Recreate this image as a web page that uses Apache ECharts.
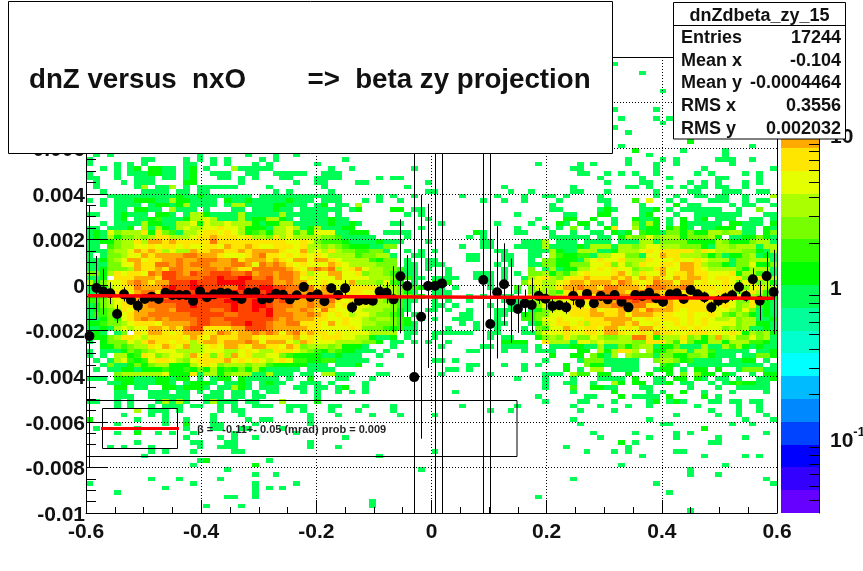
<!DOCTYPE html>
<html><head><meta charset="utf-8">
<style>html,body{margin:0;padding:0;background:#fff}#c{width:863px;height:571px}</style>
<script src="https://cdn.jsdelivr.net/npm/echarts@6/dist/echarts.min.js"></script>
</head><body><div id="c"></div>
<script>
const nBinsX = 100, nBinsY = 100, xMin = -0.6, xMax = 0.6, yMin = -0.01, yMax = 0.01;
const paletteColors = ['#6600ff','#3300ff','#0000ff','#0044ff','#0088ff','#00bbff','#00ffff','#00ffcc','#00ff99','#00ff55','#00ff00','#33ff00','#77ff00','#aaff00','#e5ff00','#ffe600','#ffaa00','#ff7700','#ff4400','#ff0000'];
const zLogMin = -1.481, zLogMax = 1.525;
const zMajorTicks = [-1, 0, 1];
const zMinorTicks = [0.04,0.05,0.06,0.07,0.08,0.09,0.2,0.3,0.4,0.5,0.6,0.7,0.8,0.9,2,3,4,5,6,7,8,9,20,30];

// Sparse histogram rows: row (from the top) -> columns holding the lowest filled level
const sparseRows = {
 1:[76],3:[80],7:[83],11:[76,82],13:[77,82,84],14:[83],15:[76],16:[78],18:[87],19:[77,96],20:[79,86,92],
 21:[1,3,16,23,27,30,81,92],
 22:[0,8,9,14,16,18,20,25,27,37,78,83,85,91,92,93,96],
 23:[0,4,6,8,14,15,18,20,24,26,33,65,71,73,78,82,85,93],
 24:[2,4,6,7,9,10,11,12,14,15,17,21,22,23,24,25,26,35,38,47,70,71,82,89,99],
 25:[0,4,6,7,8,9,10,11,12,14,15,18,19,20,23,24,27,28,29,30,31,34,35,36,71,72,75,77,79,82,88,90,95,97],
 26:[0,1,4,7,8,9,11,12,14,15,19,20,22,24,28,29,33,34,35,36,42,44,45,74,80,84,91,92,97],
 27:[1,5,7,8,9,14,15,22,30,33,34,39,40,49,75,80,81,87,89,91,95,97],
 28:[1,7,8,10,11,12,14,16,17,18,19,20,21,26,34,46,60,70,78,79,81,84,86,88,89,91,92,95],
 73:[4,5,9,10,11,13,14,16,18,19,21,22,24,26,27,31,33,36,38,40,53,70,76,81,83,86,89,93,98],
 74:[4,5,6,9,10,11,12,13,14,17,18,19,21,22,24,25,33,65,72,73,77,79,80,81,82,84,89,91],
 75:[0,1,4,6,10,11,12,13,14,17,18,19,20,21,23,24,28,33,66,71,72,76,81,82,84,85,86,90,91,93,94,96,97],
 76:[4,6,9,11,12,13,15,16,19,21,24,25,26,29,30,31,35,36,40,44,54,62,70,74,78,81,88,94,97],
 77:[7,9,10,11,13,19,21,22,29,31,35,39,44,58,61,71,76,90,94,97],
 78:[5,9,11,18,22,32,36,41,45,50,85,91,94,98],
 79:[0,7,11,14,18,23,25,26,32,70,81,95,99],
 80:[4,11,14,18,19,24,32,71,83,84,93,96],
 81:[1,7,14,18,19,22,23,28,89],
 82:[4,7,10,12,15,21,30,73,79,85,87,98],
 83:[14,19,21,24,37,74,81,85,91,95],
 84:[7,15,16,20,21,32,77,79,90,91],
 85:[3,5,9,16,19,20,21,32,36,69,78],
 86:[9,11,15,21,22,50,72,76,78,85,86],
 87:[8,42,80,89,95,97],
 88:[16,17,26],
 89:[15,24,77,92],
 90:[20,48,87],
 91:[24,27,87,91],
 92:[9,13,19,70,98],
 93:[0,15,24,30,82,99],
 94:[11,24,26,28],
 95:[4,24,84],
 96:[20,21,24,65],
 97:[41],
 98:[17,22,41],
 99:[87]
};
// Cells in the sparse rows that sit one or more levels higher: [row, column, level letter]
const sparseRaised = [[18,87,'b'],[20,79,'b'],[24,7,'b'],[24,9,'b'],[24,10,'b'],[24,15,'b'],[24,21,'e'],[25,9,'b'],[25,10,'b'],[25,15,'b'],[26,15,'b'],[27,14,'b'],[27,15,'b'],[28,8,'e'],[28,12,'e'],[73,76,'b'],[73,86,'b'],[74,77,'b'],[74,84,'b'],[74,89,'b'],[75,11,'e'],[75,13,'e'],[75,18,'e'],[75,28,'e'],[75,33,'b'],[75,82,'b'],[75,85,'b'],[77,7,'e'],[79,0,'b'],[80,14,'b'],[81,89,'b'],[82,7,'b'],[84,77,'b'],[88,17,'b'],[89,24,'b']];

// Dense histogram rows 29..72 as [columns 0-49, columns 50-99], one letter per bin, '.' = empty
const denseRows = [
["..a.....aaaa.aa.aa.........a.a.....a.............a","a..........a..a.....aa...a......a....aa...aaa..aa.b"],
["...aaaaaaaaaabaabaaaaaaa.aaaaaaaaaaaa.....a.a..a..","....a....a...a..aa.a....a.......a..a..aa.aa..a...e"],
["a.a.aaabbbaaebbaaaa.baabaaaaabaaa.aaa...a.a..a....",".......a..a..a....a.....aa...c.f..a.a...aaa..a.aa."],
["..a.aaaa.abbabeaaaa.aeeaaaabbaaa.ab.aa.e..........",".................a.......a....a....b.aa....a.aa..a."],
["....aa.bbaa.eaaa.a...aa.aaabaa.aaaaaa.ab....bb.aa.",".................aa.....aba...aab.a.aaaaaa..a..d..a"],
["aa..abaaa.bba.aeebaaaaeaaaaaeaaaaaa.a.........a.a.","............a......aa...bb....ab...a..aaaaaaa...aa"],
["....ab.aabcaaabeefeaaaeabbeeba.aaaabaa...........a","...............a...bb..b..a..baab.a.b.ab.aaa..aa.aa"],
["..a.aaaaebbaaeefbfeefeeebabbeeaaaaabaaba....aa....",".a.......a....a...ba.bb.a.a..daeb.a.baaaaa.bbaaa.b"],
["aa.aaab.eaebaefeeffgffebbbaeefeabeaaabb.........a.","............a...a.a.d.a..bg..eabb.bdba.aabbb.aa.ba"],
["abafdeeegbgdcaeefggfgfebcdbeefcebfffaabbb..aaaa...","......ba....aa...a..a..aa.bab.cbbaddbdbbeedeeaa.bd"],
["abaebddedeggeeefgghgggfgeedgefeeeeddcaaaaa....a...",".....a.a.........aaaaaa.aa.beddfdeeebdddeb.aabbdba"],
["aabbdeegehhghgggggiggggggggggffgfdcccbaaaabaaa...a",".......aa....aaae.aaa.aaaa.aaaeeaddddbbbbedbbbdeea"],
["aa.cdeeffgfggfgffggfhgghgffgggfgeededcbbbaadd.....","....a..aa...aaaaeaaaabaeeeaeedeffeeedddbaeedeeeaee"],
["aaadeefhghgefeehgghhgghghhhhgffhefegeddccdda..a.a.","a........aa...aaaebaaeeeaabeeefgfgggggegfeeeeddbae"],
["a.addeffhghhhhiihhhgfffghiggfgfgfgfeeeecddeea..aa.",".....aa...aa..aa.ecbbccaeeffddaffhggeeedbdabbdeaba"],
["aabdefhhfgghhihhiiihhighhhghgfhhfhhgfeeeecbdd.a..a","a....aa...aa..a.ddbbbaefgffgeeegfffgffgfeeeaddeeea"],
["aaaddffhggiihihiiihhhiihfihihgfgfffhgfeeeeddd.aa.a","aa.......a.a..aaddbbdddffgdfdegffggfhhgeddbaddfbbd"],
["aabdddehgghgiihhhiihihggiiiiihgfhihiefghfeeddcaa.a","..a.......a...d.aeabbeefgfgffdeeghffhhgfeeeedbeeea"],
["ddbegfggfihjjihjiijjjiijhiihiihgeffhhffgdeedcbaa..","..a...aaa.a.a.ddebdcefgfffghfegffhfgghggfffgbeecda"],
["aab.ggghhhgjjiiiijjkjjkkiijhiihfgfffhffffeeeddcaa.","aaaa..aaa.a..aefgedfgghggghghfhghgfhghhgfggfgdggde"],
["ebdffghihghhjjjkjjjkkkkjjjjhhihhffgfffheeedfcb.a..","bbb.....a....dffeefghhghhhgihgfgihhfhhfgffgfdfgdeb"],
["adbefggihhhjkjjkkjjjiikjjkkjjiigighhfgggggfeeddcba","aa.a....a...c.dfeeghhihhgiihhhgiiihhiigggfgfgdfgee"],
["aabeggfhiigijjjjjjjjkkjkjjkjiihhihhhgfggffeeedba..","aaa......a..a.ddedcghgghiiihgiijhgghggggfgggdfgecb"],
["bbcfghfhhhiijkjjkjjjjkkjjjkkjjiiihiihggfgfeeeddcb.","aaa..a.a..aa..fefdegfggghggiiihhihgghggggfgefgedcb"],
["ccdefgfhiiijjjjkjjjjkkjjkkjijihhihhigfgggeeddcaa..","a.a..a....a.a.dedeffgggihhhiijiihhhghggggfgfddgfba"],
["abdefgghhiiiijjkjjjjjkjjkkjiiihhihhhfggffeeedca...","aa.a....a..aa.edfefgghfghhiiiiiggghgggggffgfdegcba"],
["abcdegfhhhiihjjjjjiijkjjkjkiihhihgigffgfeeeddba..a","a.a..a...aaa..abdeffggghfgghhhgihhhgfgggfffedfdaba"],
["accddfghhiiiiiijjjjjiijjjjkiiihhihgfgfeffeddcb.a..","....aa...aa..bcddfffggghhgghfhhhgggffgffgfdcedbaba"],
["aabdcfghihihiiiijjiijjjjjjjihihhhggffgffedeedcb.a.","a..aaa...a...ccdffgfffggghhhhffgfgggfgfgfeefdeeaab"],
["bbcddefgggfhhhhijjiiijjkjjihhiigggfhfgffeedddcba..","....a.a..aa...abefggfgeggghhghffgffgfgfgffffdeebba"],
["aabaefeffhhghgijjgggghhjjjihhhhhggffffgfdddcbcaa..","..a...a..a...a.dcffhgfggfhhfgfhhfgffgfgfffdedeaaba"],
["aba.ad.gfhhgfghhhggihghhihihfhighggfgffffeeee.aa..","aaaaaa..aa...aadfffgffggfhhgffgfhggffgggfffgfbedeb"],
["abbdeggfegggggfhgfhggghhgfgggghfgfgggffeebaab.a...","a.......a.aa...bdedgeddfeddeeiigbeeegdebehefddfdea"],
["a.bdddfeghggfggeghhghhhihfhhhfehgfffeeeeddb.aa.a.a","..a.......bbbb..geeeaffefeeeeddgggecfdbbeebeeeccba"],
["..bbdcdeegfhgfheefgfhhgfhhggfhgdeeedebbba...a.....",".a.....aa.aaaa.a.aaabbaaeaadbdeeabbdaaaeaaecebabaa"],
["a.aaabdcdefffeeeefffeefgfeegggfedcbdcbbaaa.a......",".....aa...a..a.aaa...bb.ebegge.ebbdeeaeecaaaaa.aab"],
["a.a.eebcgfdeffehfgdgehfgeeffdcbbbbaabaaa..a..a....",".................b..bb.dbae.edddaddbbddebaaa.aaddb"],
[".a.aefcbcfggfedfgggghfgfgfefgfccbbccaaaaa.........","aa.a............a....adddaaaaa..deedbcaaaa.aabb.a."],
["..adaabdbdeebbbefgfdeeedeecbbbbbaaa.aaab..a.......",".....aa...a..a.a...b..dbbaaaaa...cba.aaaaaaaaaaa.a"],
[".a.aabbabbbcbbcbdbebcbdbebaaaaa.aaaa..............","..aa.a.......a.....b.a.ee.aaaa..abb.a.bb.b..adddaa"],
["....deeeeeefbbbgaeebdeeeaaeaaa.aa.eeaaa...aa......",".a......a.......aaa.ecc.bb..b..b..b.d.dbb.ba..a.bb"],
["aaa.bbbaaabbabb.a.abb.baaaaa.a..b...aa...a........","............a...a...a...aaaa.b..aa.bb.ba.aa.a..aab"],
["...aabbaaabba.abbba.aaba.abaa..aaa.a....a.........","................a..aa..a..eb.bb.aab.aa..a.abcbbaa."],
["....bb.aa..bbabbba.aaeba.aaa..aa.aa.ab..a.........","................a...c..bbaa...aa.....a...a..aaaaa."]
];
const denseFirstRow = 29;

// Profile: mean y (in 1e-3) and its error for each x bin; null = no point
const profileMean = [-2.24,-0.13,-0.29,-0.36,-1.27,-0.41,-0.66,-0.91,-0.61,-0.51,-0.61,-0.34,-0.44,-0.44,-0.44,-0.70,-0.28,-0.54,-0.41,-0.34,-0.36,-0.48,-0.61,-0.34,-0.32,-0.63,-0.58,-0.38,-0.43,-0.63,-0.45,-0.09,-0.53,-0.41,-0.71,-0.14,-0.44,-0.14,-0.98,-0.69,-0.66,-0.69,-0.29,-0.34,-0.63,0.38,-0.04,-4.04,-1.39,-0.04,-0.04,0.07,null,null,null,null,null,0.22,-1.71,-0.32,0.03,-0.69,-1.05,-0.80,-0.88,-0.48,-0.60,-0.92,-0.89,-0.98,-0.48,-0.78,-0.39,-0.80,-0.48,-0.63,-0.44,-0.73,-0.98,-0.44,-0.48,-0.34,-0.58,-0.73,-0.41,-0.36,-0.61,-0.22,-0.41,-0.54,-0.98,-0.69,-0.58,-0.45,-0.09,-0.48,0.25,-0.69,0.39,-0.31];
const profileErr = [5.75,1.4,1.0,0.48,0.4,0.31,0.2,0.28,0.15,0.15,0.15,0.15,0.12,0.12,0.12,0.12,0.12,0.12,0.12,0.12,0.12,0.12,0.12,0.12,0.12,0.12,0.12,0.15,0.15,0.15,0.15,0.15,0.15,0.15,0.15,0.2,0.2,0.35,0.25,0.2,0.2,0.2,0.3,0.47,1.45,2.5,1.35,12,5.35,3.6,12,12,null,null,null,null,null,12,12,2.9,1.8,1.85,1.05,0.6,1.2,0.35,0.45,0.3,0.2,0.28,0.4,0.28,0.2,0.15,0.2,0.15,0.2,0.15,0.15,0.15,0.15,0.15,0.15,0.15,0.15,0.15,0.15,0.2,0.2,0.25,0.25,0.25,0.25,0.25,0.3,0.25,0.48,0.87,1.07,1.85];

const fitX = [-0.597, 0.595];
const fitY = [-0.00047, -0.00058];

const xTickStep = 0.2, yTickStep = 0.002;
const titleText = 'dnZ versus  nxO        =>  beta zy projection';
const statsTitle = 'dnZdbeta_zy_15';
const statsNames = ['Entries','Mean x','Mean y','RMS x','RMS y'];
const statsValues = ['17244','-0.104','-0.0004464','0.3556','0.002032'];
const fitLabel = '\u03b2 =   -0.11+- 0.05 (mrad) prob = 0.009';

const levelOf = ch => 'abcdefghijk'.indexOf(ch) + 9;
const grid2 = Array.from({length: nBinsY}, () => new Array(nBinsX).fill(-1));
for (const r in sparseRows) sparseRows[r].forEach(c => grid2[r][c] = 9);
sparseRaised.forEach(([r, c, ch]) => grid2[r][c] = levelOf(ch));
denseRows.forEach((pair, k) => {
  const l = pair[0].padEnd(50, '.').slice(0, 50), rr = pair[1].padEnd(50, '.').slice(0, 50);
  const s = l + rr;
  for (let c = 0; c < 100; c++) if (s[c] !== '.') grid2[denseFirstRow + k][c] = levelOf(s[c]);
});
const binW = (xMax - xMin) / nBinsX, binH = (yMax - yMin) / nBinsY;
const cellData = [];
grid2.forEach((row, r) => row.forEach((lv, c) => {
  if (lv >= 0) cellData.push([xMin + c * binW, yMax - (r + 1) * binH, lv]);
}));
const profData = [], errData = [];
profileMean.forEach((m, i) => {
  if (m === null) return;
  const x = xMin + (i + 0.5) * binW;
  profData.push([x, m * 1e-3]);
  errData.push([x, (m - profileErr[i]) * 1e-3, (m + profileErr[i]) * 1e-3]);
});
const bandData = paletteColors.map((col, k) => [k]);
const bandH = (zLogMax - zLogMin) / paletteColors.length;

const txt = (x, y, text, size, align) => ({type:'text', z:102, x, y, style:{text, x:0, y:0, fontFamily:'Liberation Sans', fontWeight:'bold', fontSize:size, fill:'#111', align:align||'left', verticalAlign:'middle'}});
const box = (x, y, w, h, fill, z) => ({type:'rect', z:z, shape:{x, y, width:w, height:h}, style:{fill:fill, stroke:'#000', lineWidth:1}});
const seg = (x1, y1, x2, y2, col, lw, z) => ({type:'line', z:z, shape:{x1,y1,x2,y2}, style:{stroke:col, lineWidth:lw}});

const graphicEls = [
  box(86.5, 400.5, 430.5, 56, 'none', 50),
  box(102.5, 408.5, 75, 40, 'none', 50),
  seg(101, 428.5, 179, 428.5, '#ff0000', 3, 51),
  {type:'text', z:52, x:197, y:430, style:{text:fitLabel, x:0, y:0, fontFamily:'Liberation Sans', fontWeight:'bold', fontSize:11, fill:'#222', align:'left', verticalAlign:'middle'}},
  box(8.5, 1.5, 604, 152, '#fff', 100),
  txt(29, 80.5, titleText, 27.7),
  box(673.5, 2.5, 172, 136.5, '#fff', 100),
  seg(673.5, 25.5, 845.5, 25.5, '#000', 1, 101),
  txt(759.5, 16, statsTitle, 18, 'center')
];
statsNames.forEach((n, i) => {
  const y = 37.7 + i * 22.9;
  graphicEls.push(txt(681, y, n, 18));
  graphicEls.push(txt(841, y, statsValues[i], 18, 'right'));
});

const labelStyle = {fontFamily:'Liberation Sans', fontWeight:'bold', fontSize:21, color:'#111'};
const dotted = {show:true, lineStyle:{color:'#000', type:[1,2], width:1}};
const axisBlack = {color:'#000', width:1};

const option = {
  animation:false,
  backgroundColor:'#fff',
  grid:[
    {left:86, right:86, top:57, bottom:58, show:false, outerBoundsMode:'none'},
    {left:781, right:44, top:57, bottom:58, show:false, outerBoundsMode:'none'}
  ],
  xAxis:[
    {gridIndex:0, type:'value', min:xMin, max:xMax, interval:xTickStep, position:'bottom',
     axisLine:{show:true,onZero:false,lineStyle:axisBlack}, axisTick:{show:true,inside:true,length:13,lineStyle:axisBlack},
     minorTick:{show:true,splitNumber:4,length:6,lineStyle:axisBlack}, splitLine:dotted,
     axisLabel:Object.assign({margin:9,hideOverlap:false,showMinLabel:true,showMaxLabel:true,formatter:v=>String(+v.toFixed(1))},labelStyle)},
    {gridIndex:0, type:'value', min:xMin, max:xMax, position:'top', axisLine:{show:true,onZero:false,lineStyle:axisBlack}, axisTick:{show:false}, splitLine:{show:false}, axisLabel:{show:false}},
    {gridIndex:1, type:'value', min:0, max:1, show:false}
  ],
  yAxis:[
    {gridIndex:0, type:'value', min:yMin, max:yMax, interval:yTickStep, position:'left',
     axisLine:{show:true,onZero:false,lineStyle:axisBlack}, axisTick:{show:true,inside:true,length:21,lineStyle:axisBlack},
     minorTick:{show:true,splitNumber:4,length:10,lineStyle:axisBlack}, splitLine:dotted,
     axisLabel:Object.assign({margin:1,hideOverlap:false,showMinLabel:true,showMaxLabel:true,
       formatter:v=>'{t|'+String(+v.toFixed(3))+'}',
       rich:{t:{fontFamily:'Liberation Sans',fontWeight:'bold',fontSize:21,color:'#111',padding:[4,0,0,0]}}},labelStyle)},
    {gridIndex:0, type:'value', min:yMin, max:yMax, position:'right', axisLine:{show:true,onZero:false,lineStyle:axisBlack}, axisTick:{show:false}, splitLine:{show:false}, axisLabel:{show:false}},
    {gridIndex:1, type:'value', min:zLogMin, max:zLogMax, position:'right',
     axisLine:{show:true,onZero:false,lineStyle:axisBlack},
     axisTick:{show:true,inside:true,length:20,lineStyle:axisBlack,customValues:zMajorTicks},
     splitLine:{show:false},
     axisLabel:{customValues:zMajorTicks,margin:11,fontFamily:'Liberation Sans',fontWeight:'bold',fontSize:21,color:'#111',
       formatter:v=> v===1?'{b|10}' : v===0?'{b|1}' : '{b|10}{s|-1}',
       rich:{b:{fontFamily:'Liberation Sans',fontWeight:'bold',fontSize:21,color:'#111',padding:[2,0,0,0]},
             s:{fontFamily:'Liberation Sans',fontWeight:'bold',fontSize:13,color:'#111',verticalAlign:'bottom',padding:[0,0,15,0]}}}}
  ],
  series:[
    {type:'custom', name:'dnZdbeta_zy_15', xAxisIndex:0, yAxisIndex:0, z:-1, clip:true, silent:true, data:cellData,
     renderItem:(p, api)=>{
       const a = api.coord([api.value(0), api.value(1) + binH]);
       const b = api.coord([api.value(0) + binW, api.value(1)]);
       const x0 = Math.round(a[0]), y0 = Math.round(a[1]), x1 = Math.round(b[0]), y1 = Math.round(b[1]);
       return {type:'rect', shape:{x:x0, y:y0, width:x1-x0, height:y1-y0}, style:{fill:paletteColors[api.value(2)]}};
     }},
    {type:'custom', name:'errors', xAxisIndex:0, yAxisIndex:0, z:3, clip:true, silent:true, data:errData,
     renderItem:(p, api)=>{
       const a = api.coord([api.value(0), api.value(1)]), b = api.coord([api.value(0), api.value(2)]);
       const x = Math.round(a[0]) + 0.5;
       return {type:'line', shape:{x1:x, y1:a[1], x2:x, y2:b[1]}, style:{stroke:'#000', lineWidth:1}};
     }},
    {type:'scatter', name:'profile', xAxisIndex:0, yAxisIndex:0, z:4, silent:true, symbol:'circle', symbolSize:10, itemStyle:{color:'#000', opacity:1}, data:profData, clip:true},
    {type:'line', name:'fit', xAxisIndex:0, yAxisIndex:0, z:5, silent:true, showSymbol:false, lineStyle:{color:'#ff0000', width:3.5}, data:fitX.map((x,i)=>[x,fitY[i]])},
    {type:'custom', name:'palette', xAxisIndex:2, yAxisIndex:2, z:1, silent:true, data:bandData,
     renderItem:(p, api)=>{
       const k = api.value(0);
       const a = api.coord([0, zLogMin + (k + 1) * bandH]), b = api.coord([1, zLogMin + k * bandH]);
       const y0 = Math.round(a[1]), y1 = Math.round(b[1]);
       return {type:'rect', shape:{x:a[0], y:y0, width:b[0]-a[0], height:y1-y0}, style:{fill:paletteColors[k]}};
     }},
    {type:'custom', name:'palette minor ticks', xAxisIndex:2, yAxisIndex:2, z:2, silent:true, data:zMinorTicks.map(v=>[Math.log10(v)]),
     renderItem:(p, api)=>{
       const a = api.coord([1, api.value(0)]);
       const y = Math.round(a[1]) + 0.5;
       return {type:'line', shape:{x1:a[0]-10, y1:y, x2:a[0], y2:y}, style:{stroke:'#000', lineWidth:1}};
     }}
  ],
  graphic:{elements:graphicEls}
};
const chart = echarts.init(document.getElementById('c'), null, {renderer:'canvas', width:863, height:571});
chart.setOption(option);
</script></body></html>
